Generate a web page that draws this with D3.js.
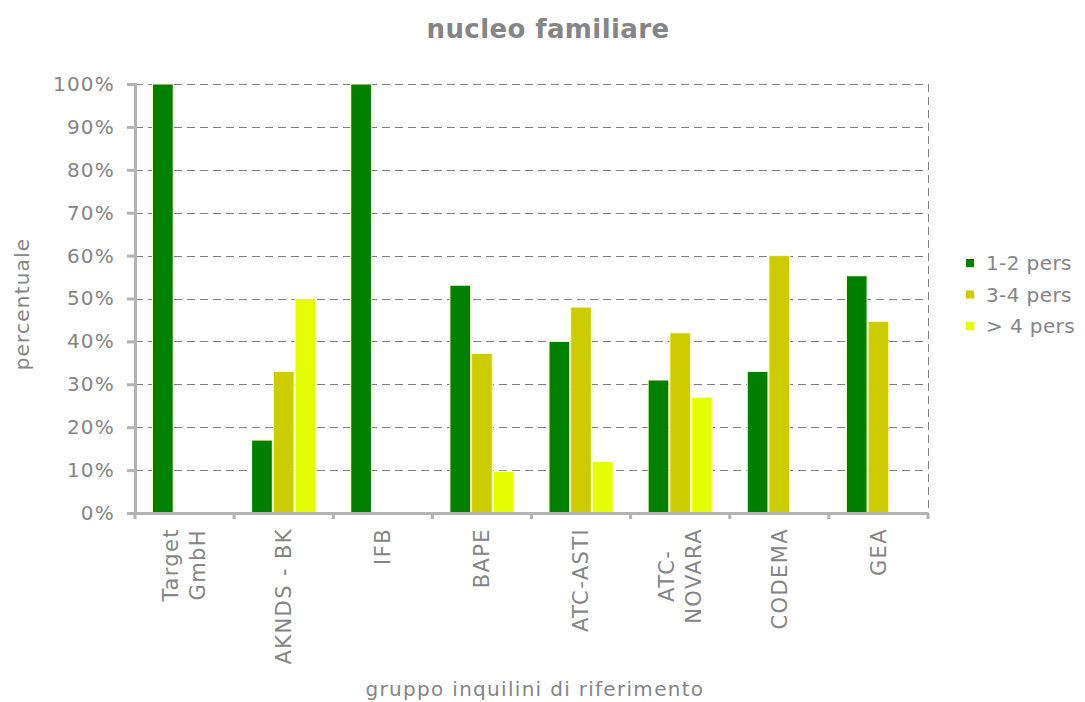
<!DOCTYPE html>
<html>
<head>
<meta charset="utf-8">
<script src="https://cdn.jsdelivr.net/npm/d3@7"></script>
<style>
  body { margin: 0; background: #fff; }
  text { font-family: "DejaVu Sans", Verdana, sans-serif; fill: #858585; }
</style>
</head>
<body>
<div id="host"><svg></svg></div>
<script>
const WIDTH = 1085;
const HEIGHT = 702;

const LEFT = 135;
const RIGHT = 928;
const TOP = 84;
const BOTTOM = 513;

const GREEN = "#008000";
const OLIVE = "#cccc00";
const YELLOW = "#e6ff00";
const GRID = "#808080";
const AXIS = "#b3b3b3";

const categories = [
  "Target\nGmbH",
  "AKNDS - BK",
  "IFB",
  "BAPE",
  "ATC-ASTI",
  "ATC-\nNOVARA",
  "CODEMA",
  "GEA",
];
const seriesNames = ["1-2 pers", "3-4 pers", "> 4 pers"];
const seriesColors = [GREEN, OLIVE, YELLOW];

const pers12 = [100, 17, 100, 53.1, 40, 31, 33, 55.3];
const pers34 = [0, 33, 0, 37.2, 48, 42, 60, 44.7];
const pers5 = [0, 50, 0, 9.7, 12, 27, 0, 0];

const yTicks = [0, 10, 20, 30, 40, 50, 60, 70, 80, 90, 100];

const svg = d3.select("#host svg").attr("width", WIDTH).attr("height", HEIGHT);

const x = d3.scaleBand().domain(categories).range([LEFT, RIGHT]);
const x1 = d3
  .scaleBand()
  .domain(seriesNames)
  .range([17, x.bandwidth() - 17]);
const y = d3.scaleLinear().domain([0, 100]).range([BOTTOM, TOP]);

// title
svg
  .append("text")
  .attr("x", 548)
  .attr("y", 38)
  .attr("text-anchor", "middle")
  .style("font-size", "26px")
  .style("font-weight", "bold")
  .style("letter-spacing", "0.4px")
  .text("nucleo familiare");

// grid
svg
  .append("g")
  .selectAll("line")
  .data(yTicks.filter((d) => d > 0))
  .join("line")
  .attr("x1", LEFT)
  .attr("x2", RIGHT)
  .attr("y1", (d) => Math.round(y(d)) + 0.5)
  .attr("y2", (d) => Math.round(y(d)) + 0.5)
  .attr("stroke", GRID)
  .attr("stroke-dasharray", "8,5");

svg
  .append("line")
  .attr("x1", RIGHT + 0.5)
  .attr("x2", RIGHT + 0.5)
  .attr("y1", TOP)
  .attr("y2", BOTTOM)
  .attr("stroke", GRID)
  .attr("stroke-dasharray", "8,5");

// bars
const table = categories.map((c, i) => ({
  cat: c,
  vals: [pers12[i], pers34[i], pers5[i]],
}));

svg
  .append("g")
  .selectAll("g")
  .data(table)
  .join("g")
  .attr("transform", (d) => `translate(${x(d.cat)},0)`)
  .selectAll("rect")
  .data((d) => d.vals.map((v, k) => ({ v, k })).filter((e) => e.v > 0))
  .join("rect")
  .attr("x", (e) => x1(seriesNames[e.k]) + 0.5)
  .attr("width", x1.bandwidth() - 1)
  .attr("y", (e) => y(e.v))
  .attr("height", (e) => BOTTOM - y(e.v))
  .attr("fill", (e) => seriesColors[e.k])
  .attr("stroke", "#ffffcc")
  .attr("stroke-width", 1);

// y axis
const yAxis = svg
  .append("g")
  .attr("transform", `translate(${LEFT},0)`)
  .call(
    d3
      .axisLeft(y)
      .tickValues(yTicks)
      .tickSize(8)
      .tickPadding(12)
      .tickFormat((d) => d + "%")
  );
yAxis.select(".domain").attr("stroke", AXIS).attr("stroke-width", 3);
yAxis.selectAll(".tick line").attr("stroke", AXIS).attr("stroke-width", 3);
yAxis
  .selectAll(".tick text")
  .attr("fill", null)
  .style("font-size", "20px")
  .style("letter-spacing", "1.2px")
  .style("font-family", null);

// x axis
const xAxis = svg
  .append("g")
  .attr("transform", `translate(0,${BOTTOM})`)
  .call(d3.axisBottom(x).tickSize(0).tickFormat(""));
xAxis.select(".domain").attr("stroke", AXIS).attr("stroke-width", 3);
xAxis
  .selectAll(".edge")
  .data(d3.range(categories.length + 1))
  .join("line")
  .attr("x1", (i) => LEFT + i * x.step())
  .attr("x2", (i) => LEFT + i * x.step())
  .attr("y1", 0)
  .attr("y2", 6)
  .attr("stroke", AXIS)
  .attr("stroke-width", 3);

const labels = svg
  .append("g")
  .selectAll("g")
  .data(categories)
  .join("g")
  .attr(
    "transform",
    (d) => `translate(${x(d) + x.bandwidth() / 2},528) rotate(-90)`
  );

labels.each(function (d) {
  const g = d3.select(this);
  const lines = d.split("\n");
  const texts = g
    .selectAll("text")
    .data(lines)
    .join("text")
    .style("font-size", "21px")
    .style("letter-spacing", "1.4px")
    .attr("dy", "0.35em")
    .text((t) => t);
  const maxLen = d3.max(texts.nodes(), (n) => n.getComputedTextLength());
  texts
    .attr("text-anchor", "middle")
    .attr("x", -maxLen / 2)
    .attr("y", (t, i) => (i - (lines.length - 1) / 2) * 27);
});

// axis titles
svg
  .append("text")
  .attr("transform", "translate(29,304) rotate(-90)")
  .attr("text-anchor", "middle")
  .style("font-size", "20px")
  .style("letter-spacing", "1.2px")
  .text("percentuale");

svg
  .append("text")
  .attr("x", 535)
  .attr("y", 696)
  .attr("text-anchor", "middle")
  .style("font-size", "20px")
  .style("letter-spacing", "1.3px")
  .text("gruppo inquilini di riferimento");

// legend
const legend = svg
  .append("g")
  .selectAll("g")
  .data(seriesNames)
  .join("g")
  .attr("transform", (d, i) => `translate(965,${263 + i * 31.5})`);

legend
  .append("rect")
  .attr("x", 0.5)
  .attr("y", -4.5)
  .attr("width", 9)
  .attr("height", 9)
  .attr("fill", (d, i) => seriesColors[i])
  .attr("stroke", "#ffffcc");

legend
  .append("text")
  .attr("x", 21)
  .attr("dy", "0.35em")
  .style("font-size", "20px")
  .style("letter-spacing", "0.4px")
  .text((d) => d);
</script>
</body>
</html>
